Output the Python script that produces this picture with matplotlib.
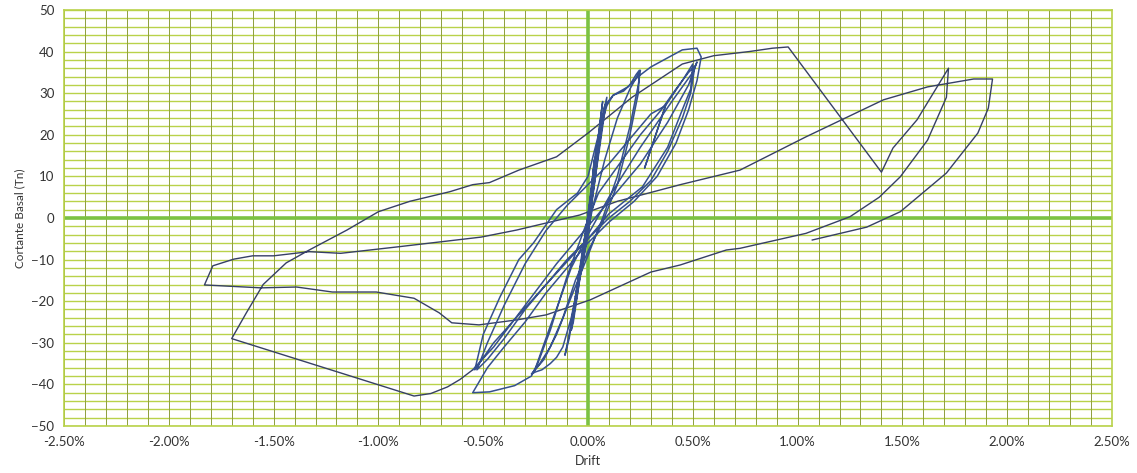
import numpy as np
import matplotlib
matplotlib.use("Agg")
import matplotlib.pyplot as plt

# ── Data (drift in %, basal shear in Tn) ───────────────────────────────
# inner cycles (small amplitude, dense near the origin)
drift_inner = [
    0.00, 0.02, 0.03, 0.01, -0.02, -0.03, -0.01, 0.02, 0.04, 0.02, -0.02, -0.04,
    -0.01, 0.03, 0.05, 0.03, -0.01, -0.05, -0.06, -0.03, 0.02, 0.06,
    0.07, 0.05, 0.02, -0.02, -0.06, -0.09, -0.11, -0.09, -0.05, 0.00, 0.04, 0.07,
    0.09, 0.07, 0.03, -0.01, -0.05, -0.08, -0.07, -0.04, 0.00, 0.04, 0.08,
    0.12, 0.17, 0.20, 0.23, 0.245, 0.24, 0.20, 0.14, 0.07, 0.00, -0.06, -0.12,
    -0.18, -0.23, -0.27, -0.25, -0.22, -0.18, -0.15, -0.12, -0.08, -0.03, 0.02,
    0.08, 0.14, 0.20, 0.25, 0.24, 0.20, 0.14, 0.07, 0.00, -0.08, -0.15, -0.21,
    -0.26, -0.24, -0.18, -0.10, -0.02, 0.05, 0.15, 0.25, 0.35, 0.42, 0.48, 0.51,
    0.49, 0.45, 0.38, 0.30, 0.20, 0.10, 0.00, -0.10, -0.20, -0.30, -0.40, -0.48,
    -0.53, -0.48, -0.40, -0.30, -0.20, -0.10, 0.00, 0.10, 0.20, 0.30, 0.37, 0.27,
    0.37, 0.45, 0.50, 0.49, 0.45, 0.38, 0.26, 0.10, 0.00, -0.20, -0.45, -0.54,
    -0.50, -0.42, -0.33, -0.26, -0.15, -0.05, 0.00, 0.05, 0.09, 0.12, 0.19, 0.24,
    0.30, 0.38, 0.45, 0.52, 0.54, 0.52, 0.48, 0.42, 0.33, 0.22, 0.10, 0.00,
    -0.10, -0.20, -0.30, -0.40, -0.48, -0.55, -0.47, -0.35, -0.27, -0.25, -0.18,
    -0.08, 0.00, 0.10, 0.25, 0.40, 0.50, 0.52, 0.48, 0.38, 0.25, 0.10, 0.00,
    -0.15, -0.30, -0.45, -0.55,
]
shear_inner = [
    0.0, 8.0, 14.0, 4.0, -6.0, -10.0, -3.0, 9.0, 17.0, 7.0, -8.0, -13.0,
    -4.0, 12.0, 20.0, 9.0, -4.0, -16.0, -19.0, -9.0, 6.0, 24.0,
    28.0, 20.0, 6.0, -8.0, -20.0, -29.0, -33.0, -28.0, -16.0, -3.0, 13.0, 25.0,
    29.0, 22.0, 8.0, -5.0, -18.0, -27.0, -25.0, -15.0, -4.0, 12.0, 27.0,
    29.5, 30.5, 32.0, 34.5, 35.5, 30.0, 20.0, 8.0, -1.0, -8.0, -15.0, -24.0,
    -31.0, -35.0, -37.5, -37.0, -36.5, -35.0, -33.5, -31.0, -24.0, -12.0, 2.0,
    14.0, 24.0, 31.0, 35.5, 32.0, 22.0, 10.0, 0.0, -9.0, -19.0, -28.0, -34.0,
    -37.0, -35.0, -27.0, -14.0, -3.0, 6.0, 13.0, 20.0, 26.0, 31.0, 35.0, 36.5,
    30.0, 24.0, 16.0, 9.0, 4.0, 0.0, -5.0, -10.0, -16.0, -22.0, -29.0, -34.0,
    -36.5, -30.0, -21.0, -11.0, -3.0, 3.0, 8.0, 13.0, 19.0, 25.0, 27.0, 12.0,
    27.0, 33.0, 37.0, 31.0, 26.0, 17.0, 7.5, 1.0, -5.0, -16.0, -30.0, -36.5,
    -28.0, -19.0, -10.0, -6.0, 2.0, 6.0, 10.0, 20.0, 27.0, 29.5, 31.5, 34.0,
    36.3, 38.5, 40.4, 40.8, 38.7, 33.0, 26.0, 18.0, 10.0, 4.0, -1.0, -6.0,
    -12.0, -18.0, -25.0, -31.0, -36.0, -42.0, -41.8, -40.3, -38.0, -36.0, -26.0,
    -12.0, -4.0, 5.0, 17.0, 28.0, 35.0, 37.5, 32.0, 23.0, 13.0, 4.0, -2.0,
    -11.0, -21.0, -31.0, -36.5,
]

# large cycles (continue from the last inner point)
drift_outer = [
    -0.55, -0.61, -0.67, -0.75, -0.83,
    -1.70, -1.63, -1.55, -1.44, -1.33, -1.15, -1.00, -0.85, -0.66, -0.55, -0.47,
    -0.33, -0.15, 0.00, 0.21, 0.45, 0.60, 0.77, 0.88, 0.955,
    1.40, 1.455, 1.57, 1.72, 1.71, 1.62, 1.49, 1.39, 1.25, 1.04, 0.725, 0.66,
    0.44, 0.30, 0.01, -0.20, -0.34, -0.52, -0.65, -0.71, -0.83, -1.01, -1.22,
    -1.39, -1.56, -1.83, -1.79, -1.69, -1.60, -1.50, -1.33, -1.18, -0.90, -0.51,
    -0.34, -0.04, 0.14, 0.44, 0.725, 1.04, 1.41, 1.62, 1.84, 1.93, 1.91, 1.86,
    1.71, 1.49, 1.33, 1.07,
]
shear_outer = [
    -36.5, -38.8, -40.6, -42.2, -42.8,
    -29.0, -22.8, -16.0, -10.8, -7.7, -2.9, 1.5, 4.0, 6.3, 8.0, 8.5,
    11.5, 14.7, 20.4, 29.0, 37.0, 39.0, 40.0, 40.8, 41.1,
    11.0, 16.8, 23.6, 36.0, 29.0, 18.7, 9.9, 5.0, 0.3, -3.7, -7.3, -7.7,
    -11.3, -13.0, -19.7, -23.3, -24.5, -25.7, -25.2, -22.8, -19.3, -17.8, -17.8,
    -16.6, -16.8, -16.1, -11.5, -9.9, -9.1, -9.1, -8.1, -8.5, -6.9, -4.6,
    -2.9, 0.7, 4.0, 8.0, 11.5, 19.5, 28.4, 31.5, 33.4, 33.4, 26.4, 20.4,
    10.8, 1.5, -2.2, -5.3,
]

x_ticks = [-2.5, -2.0, -1.5, -1.0, -0.5, 0.0, 0.5, 1.0, 1.5, 2.0, 2.5]
y_ticks = [-50, -40, -30, -20, -10, 0, 10, 20, 30, 40, 50]

# ── Colours ────────────────────────────────────────────────────────────
LINE_OUT = "#363f66"
LINE_IN  = "#35508e"
HGRID    = "#b9d24a"
VGRID    = "#8e9e3c"
AXIS0    = "#7cc243"
TEXT     = "#333333"

plt.rcParams["font.family"] = ["Lato", "DejaVu Sans"]

fig = plt.figure(figsize=(11.37, 4.73), dpi=100, facecolor="white")
ax = fig.add_axes([0.0563, 0.0994, 0.9217, 0.8796])

ax.set_xlim(-2.5, 2.5)
ax.set_ylim(-50, 50)

# grid: horizontal every 2 Tn, vertical every 0.1 %
for yv in np.arange(-50, 51, 2):
    ax.axhline(yv, color=HGRID, linewidth=1.0, zorder=1)
for xv in np.arange(-2.5, 2.51, 0.1):
    ax.axvline(xv, color=VGRID, linewidth=0.7, zorder=1)

ax.axhline(0, color=AXIS0, linewidth=2.6, zorder=2)
ax.axvline(0, color=AXIS0, linewidth=2.6, zorder=2)

ax.plot(drift_outer, shear_outer, color=LINE_OUT, linewidth=1.0, zorder=3)
ax.plot(drift_inner, shear_inner, color=LINE_IN, linewidth=1.1, zorder=4)

ax.set_xticks(x_ticks)
ax.set_xticklabels([f"{v:.2f}%" for v in x_ticks])
ax.set_yticks(y_ticks)
ax.tick_params(length=0, labelsize=9.5, colors=TEXT, pad=7)
for s in ax.spines.values():
    s.set_color(HGRID)
    s.set_linewidth(1.2)

ax.set_xlabel("Drift", fontsize=9, color=TEXT, labelpad=5)
ax.set_ylabel("Cortante Basal (Tn)", fontsize=8.5, color=TEXT, labelpad=4)

plt.savefig("out.png", dpi=100, facecolor="white")
